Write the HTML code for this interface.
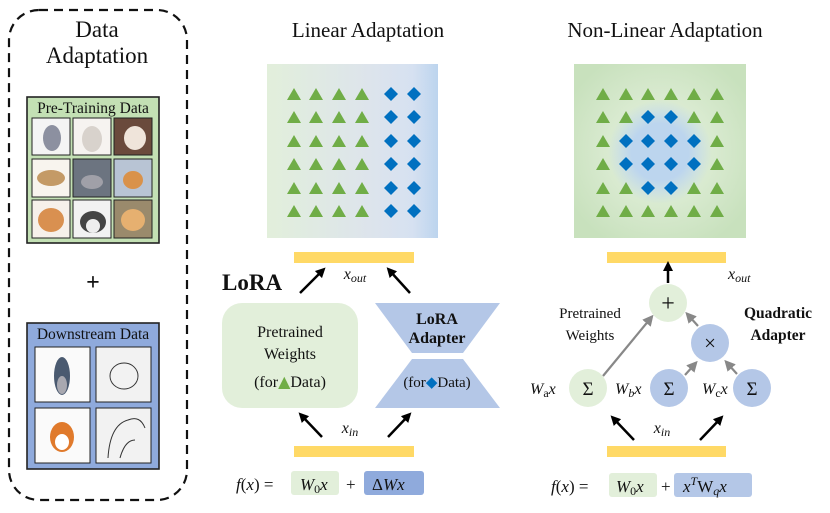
<!DOCTYPE html>
<html><head><meta charset="utf-8"><style>
body{margin:0;background:#fff}
svg{display:block}
text{font-family:"Liberation Serif",serif;fill:#111}
.it{font-style:italic}
</style></head><body>
<svg width="830" height="513" viewBox="0 0 830 513" xmlns="http://www.w3.org/2000/svg">
<defs>
<linearGradient id="lg" x1="0" x2="1" y1="0" y2="0">
<stop offset="0" stop-color="#e2efdb"/><stop offset="0.6" stop-color="#dde4ec"/><stop offset="0.85" stop-color="#d6e1f1"/><stop offset="1" stop-color="#bcd4ee"/></linearGradient>
<radialGradient id="ng" cx="0.5" cy="0.5" r="0.6">
<stop offset="0.3" stop-color="#e0eed8"/><stop offset="1" stop-color="#c8e1bd"/></radialGradient>
<radialGradient id="blob"><stop offset="0.55" stop-color="#bcd5ee"/><stop offset="1" stop-color="#bcd5ee" stop-opacity="0"/></radialGradient>
<marker id="ab" viewBox="0 0 10 10" refX="5" refY="5" markerWidth="4" markerHeight="4" orient="auto"><path d="M0,0L10,5L0,10z" fill="#000"/></marker>
<marker id="ag" viewBox="0 0 10 10" refX="5" refY="5" markerWidth="5" markerHeight="5" orient="auto"><path d="M0,0L10,5L0,10z" fill="#888"/></marker>
<symbol id="tri" viewBox="0 0 14 12"><path d="M7,0L14,12L0,12z" fill="#70ad47"/></symbol>
<symbol id="dia" viewBox="0 0 14 14"><path d="M7,0L14,7L7,14L0,7z" fill="#0070c0"/></symbol>
</defs>

<rect x="9" y="10" width="178" height="490" rx="30" fill="none" stroke="#111" stroke-width="2.2" stroke-dasharray="9,6"/>
<text x="97" y="37" font-size="23" text-anchor="middle">Data</text>
<text x="97" y="63" font-size="23" text-anchor="middle">Adaptation</text>
<rect x="27" y="97" width="132" height="146" fill="#c3e0b4" stroke="#222" stroke-width="1.6"/>
<text x="93" y="113" font-size="15.5" text-anchor="middle">Pre-Training Data</text>
<g stroke="#222" stroke-width="1">
<rect x="32" y="118" width="38" height="37" fill="#f4f4f4"/><rect x="73" y="118" width="38" height="37" fill="#f6f3f0"/><rect x="114" y="118" width="38" height="37" fill="#6a4a3c"/>
<rect x="32" y="159" width="38" height="38" fill="#f8f4ee"/><rect x="73" y="159" width="38" height="38" fill="#6c7480"/><rect x="114" y="159" width="38" height="38" fill="#b8c4d4"/>
<rect x="32" y="200" width="38" height="38" fill="#f6f0ea"/><rect x="73" y="200" width="38" height="38" fill="#f2f2f2"/><rect x="114" y="200" width="38" height="38" fill="#9a8a6c"/>
</g>
<g stroke="none">
<ellipse cx="52" cy="138" rx="9" ry="13" fill="#8c90a0"/><ellipse cx="92" cy="139" rx="10" ry="13" fill="#d8d2cc"/><ellipse cx="135" cy="138" rx="11" ry="12" fill="#efe4da"/>
<ellipse cx="51" cy="178" rx="14" ry="8" fill="#c49a66"/><ellipse cx="92" cy="182" rx="11" ry="7" fill="#a0a0a8"/><ellipse cx="133" cy="180" rx="10" ry="9" fill="#d9924a"/>
<ellipse cx="51" cy="220" rx="13" ry="12" fill="#d99050"/><ellipse cx="93" cy="222" rx="13" ry="11" fill="#444" /><ellipse cx="93" cy="226" rx="7" ry="7" fill="#eee"/><ellipse cx="133" cy="220" rx="12" ry="11" fill="#e6b070"/>
</g>
<text x="93" y="290" font-size="24" font-family="Liberation Sans" text-anchor="middle" font-weight="bold">+</text>
<rect x="27" y="323" width="132" height="146" fill="#8faadc" stroke="#222" stroke-width="1.6"/>
<text x="93" y="339" font-size="15.5" text-anchor="middle">Downstream Data</text>
<g stroke="#222" stroke-width="1" fill="#fafafa">
<rect x="35" y="347" width="55" height="55"/><rect x="96" y="347" width="55" height="55" fill="#f2f2f2"/>
<rect x="35" y="408" width="55" height="55"/><rect x="96" y="408" width="55" height="55" fill="#f2f2f2"/>
</g>
<ellipse cx="62" cy="376" rx="8" ry="19" fill="#4a5a70"/><ellipse cx="62" cy="385" rx="5" ry="9" fill="#a8a8b0"/>
<ellipse cx="124" cy="376" rx="14" ry="13" fill="none" stroke="#333" stroke-width="1"/>
<ellipse cx="62" cy="437" rx="12" ry="15" fill="#e07a2c"/><ellipse cx="62" cy="442" rx="7" ry="8" fill="#fff"/>
<path d="M108,458 Q110,425 128,420 Q140,415 145,428 M120,458 Q125,440 135,440" fill="none" stroke="#333" stroke-width="1"/>

<text x="368" y="37" font-size="21" text-anchor="middle">Linear Adaptation</text>
<rect x="267" y="64" width="171" height="174" fill="url(#lg)"/>
<g>
<use href="#tri" x="287" y="88" width="14" height="12"/><use href="#tri" x="309" y="88" width="14" height="12"/><use href="#tri" x="332" y="88" width="14" height="12"/><use href="#tri" x="355" y="88" width="14" height="12"/>
<use href="#tri" x="287" y="111" width="14" height="12"/><use href="#tri" x="309" y="111" width="14" height="12"/><use href="#tri" x="332" y="111" width="14" height="12"/><use href="#tri" x="355" y="111" width="14" height="12"/>
<use href="#tri" x="287" y="135" width="14" height="12"/><use href="#tri" x="309" y="135" width="14" height="12"/><use href="#tri" x="332" y="135" width="14" height="12"/><use href="#tri" x="355" y="135" width="14" height="12"/>
<use href="#tri" x="287" y="158" width="14" height="12"/><use href="#tri" x="309" y="158" width="14" height="12"/><use href="#tri" x="332" y="158" width="14" height="12"/><use href="#tri" x="355" y="158" width="14" height="12"/>
<use href="#tri" x="287" y="182" width="14" height="12"/><use href="#tri" x="309" y="182" width="14" height="12"/><use href="#tri" x="332" y="182" width="14" height="12"/><use href="#tri" x="355" y="182" width="14" height="12"/>
<use href="#tri" x="287" y="205" width="14" height="12"/><use href="#tri" x="309" y="205" width="14" height="12"/><use href="#tri" x="332" y="205" width="14" height="12"/><use href="#tri" x="355" y="205" width="14" height="12"/>
<use href="#dia" x="384" y="87" width="14" height="14"/><use href="#dia" x="407" y="87" width="14" height="14"/>
<use href="#dia" x="384" y="110" width="14" height="14"/><use href="#dia" x="407" y="110" width="14" height="14"/>
<use href="#dia" x="384" y="134" width="14" height="14"/><use href="#dia" x="407" y="134" width="14" height="14"/>
<use href="#dia" x="384" y="157" width="14" height="14"/><use href="#dia" x="407" y="157" width="14" height="14"/>
<use href="#dia" x="384" y="181" width="14" height="14"/><use href="#dia" x="407" y="181" width="14" height="14"/>
<use href="#dia" x="384" y="204" width="14" height="14"/><use href="#dia" x="407" y="204" width="14" height="14"/>
</g>
<rect x="294" y="252" width="120" height="11" fill="#ffd966"/>
<rect x="294" y="446" width="120" height="11" fill="#ffd966"/>
<text x="355" y="279" font-size="16" class="it" text-anchor="middle">x<tspan font-size="12" dy="3">out</tspan></text>
<text x="350" y="433" font-size="16" class="it" text-anchor="middle">x<tspan font-size="12" dy="3">in</tspan></text>
<text x="222" y="290" font-size="23" font-weight="bold">LoRA</text>
<line x1="300" y1="293" x2="322" y2="271" stroke="#000" stroke-width="2.5" marker-end="url(#ab)"/>
<line x1="410" y1="293" x2="390" y2="271" stroke="#000" stroke-width="2.5" marker-end="url(#ab)"/>
<line x1="322" y1="437" x2="302" y2="416" stroke="#000" stroke-width="2.5" marker-end="url(#ab)"/>
<line x1="388" y1="437" x2="408" y2="416" stroke="#000" stroke-width="2.5" marker-end="url(#ab)"/>
<rect x="222" y="303" width="136" height="105" rx="20" fill="#e2efda"/>
<text x="290" y="337" font-size="16" text-anchor="middle">Pretrained</text>
<text x="290" y="359" font-size="16" text-anchor="middle">Weights</text>
<text x="290" y="387" font-size="16" text-anchor="middle">(for<tspan fill="#70ad47" font-family="DejaVu Sans">▲</tspan>Data)</text>
<path d="M375,303H500L463,353H412z" fill="#b4c7e7"/>
<path d="M412,359H463L500,408H375z" fill="#b4c7e7"/>
<text x="437" y="324" font-size="16" font-weight="bold" text-anchor="middle">LoRA</text>
<text x="437" y="343" font-size="16" font-weight="bold" text-anchor="middle">Adapter</text>
<text x="437" y="387" font-size="15" text-anchor="middle">(for<tspan fill="#0070c0" font-family="DejaVu Sans">◆</tspan>Data)</text>
<rect x="291" y="471" width="48" height="24" rx="3" fill="#e2efda"/>
<rect x="364" y="471" width="60" height="24" rx="3" fill="#8faadc"/>
<text x="236" y="490" font-size="17" class="it">f<tspan font-style="normal">(</tspan>x<tspan font-style="normal">) =</tspan></text>
<text x="300" y="490" font-size="17" class="it">W<tspan font-size="12" dy="3" font-style="normal">0</tspan><tspan dy="-3">x</tspan></text>
<text x="346" y="490" font-size="17">+</text>
<text x="372" y="490" font-size="17" class="it"><tspan font-style="normal">Δ</tspan>Wx</text>

<text x="665" y="37" font-size="21" text-anchor="middle">Non-Linear Adaptation</text>
<rect x="574" y="64" width="172" height="174" fill="url(#ng)"/>
<circle cx="660" cy="152" r="52" fill="url(#blob)"/>
<g>
<use href="#tri" x="596" y="88" width="14" height="12"/><use href="#tri" x="619" y="88" width="14" height="12"/><use href="#tri" x="641" y="88" width="14" height="12"/><use href="#tri" x="664" y="88" width="14" height="12"/><use href="#tri" x="687" y="88" width="14" height="12"/><use href="#tri" x="710" y="88" width="14" height="12"/>
<use href="#tri" x="596" y="111" width="14" height="12"/><use href="#tri" x="619" y="111" width="14" height="12"/><use href="#dia" x="641" y="110" width="14" height="14"/><use href="#dia" x="664" y="110" width="14" height="14"/><use href="#tri" x="687" y="111" width="14" height="12"/><use href="#tri" x="710" y="111" width="14" height="12"/>
<use href="#tri" x="596" y="135" width="14" height="12"/><use href="#dia" x="619" y="134" width="14" height="14"/><use href="#dia" x="641" y="134" width="14" height="14"/><use href="#dia" x="664" y="134" width="14" height="14"/><use href="#dia" x="687" y="134" width="14" height="14"/><use href="#tri" x="710" y="135" width="14" height="12"/>
<use href="#tri" x="596" y="158" width="14" height="12"/><use href="#dia" x="619" y="157" width="14" height="14"/><use href="#dia" x="641" y="157" width="14" height="14"/><use href="#dia" x="664" y="157" width="14" height="14"/><use href="#dia" x="687" y="157" width="14" height="14"/><use href="#tri" x="710" y="158" width="14" height="12"/>
<use href="#tri" x="596" y="182" width="14" height="12"/><use href="#tri" x="619" y="182" width="14" height="12"/><use href="#dia" x="641" y="181" width="14" height="14"/><use href="#dia" x="664" y="181" width="14" height="14"/><use href="#tri" x="687" y="182" width="14" height="12"/><use href="#tri" x="710" y="182" width="14" height="12"/>
<use href="#tri" x="596" y="205" width="14" height="12"/><use href="#tri" x="619" y="205" width="14" height="12"/><use href="#tri" x="641" y="205" width="14" height="12"/><use href="#tri" x="664" y="205" width="14" height="12"/><use href="#tri" x="687" y="205" width="14" height="12"/><use href="#tri" x="710" y="205" width="14" height="12"/>
</g>
<rect x="607" y="252" width="119" height="11" fill="#ffd966"/>
<rect x="607" y="446" width="119" height="11" fill="#ffd966"/>
<text x="728" y="279" font-size="16" class="it">x<tspan font-size="12" dy="3">out</tspan></text>
<text x="662" y="433" font-size="16" class="it" text-anchor="middle">x<tspan font-size="12" dy="3">in</tspan></text>
<line x1="668" y1="283" x2="668" y2="266" stroke="#000" stroke-width="2.5" marker-end="url(#ab)"/>
<line x1="634" y1="440" x2="614" y2="419" stroke="#000" stroke-width="2.5" marker-end="url(#ab)"/>
<line x1="700" y1="440" x2="720" y2="419" stroke="#000" stroke-width="2.5" marker-end="url(#ab)"/>
<g stroke="#888" stroke-width="2.2">
<line x1="603" y1="376" x2="650" y2="319" marker-end="url(#ag)"/>
<line x1="698" y1="326" x2="689" y2="316" marker-end="url(#ag)"/>
<line x1="685" y1="375" x2="694" y2="365" marker-end="url(#ag)"/>
<line x1="737" y1="374" x2="728" y2="364" marker-end="url(#ag)"/>
</g>
<circle cx="668" cy="303" r="19" fill="#e2efda"/>
<circle cx="710" cy="343" r="19" fill="#b4c7e7"/>
<circle cx="588" cy="388" r="19" fill="#e2efda"/>
<circle cx="669" cy="388" r="19" fill="#b4c7e7"/>
<circle cx="752" cy="388" r="19" fill="#b4c7e7"/>
<text x="668" y="311" font-size="24" font-family="Liberation Sans" text-anchor="middle">+</text>
<text x="710" y="350" font-size="21" font-family="Liberation Sans" text-anchor="middle">×</text>
<text x="588" y="395" font-size="19" text-anchor="middle">Σ</text>
<text x="669" y="395" font-size="19" text-anchor="middle">Σ</text>
<text x="752" y="395" font-size="19" text-anchor="middle">Σ</text>
<text x="590" y="318" font-size="15" text-anchor="middle">Pretrained</text>
<text x="590" y="340" font-size="15" text-anchor="middle">Weights</text>
<text x="778" y="318" font-size="15.5" font-weight="bold" text-anchor="middle">Quadratic</text>
<text x="778" y="340" font-size="15.5" font-weight="bold" text-anchor="middle">Adapter</text>
<text x="530" y="394" font-size="16" class="it">W<tspan font-size="12" font-style="normal" dy="3">a</tspan><tspan dy="-3">x</tspan></text>
<text x="615" y="394" font-size="16" class="it">W<tspan font-size="12" dy="3">b</tspan><tspan dy="-3">x</tspan></text>
<text x="702" y="394" font-size="16" class="it">W<tspan font-size="12" font-style="normal" dy="3">c</tspan><tspan dy="-3">x</tspan></text>
<rect x="609" y="473" width="48" height="24" rx="3" fill="#e2efda"/>
<rect x="674" y="473" width="78" height="24" rx="3" fill="#b4c7e7"/>
<text x="551" y="492" font-size="17" class="it">f<tspan font-style="normal">(</tspan>x<tspan font-style="normal">) =</tspan></text>
<text x="616" y="492" font-size="17" class="it">W<tspan font-size="12" dy="3" font-style="normal">0</tspan><tspan dy="-3">x</tspan></text>
<text x="661" y="492" font-size="17">+</text>
<text x="683" y="492" font-size="17" class="it">x<tspan font-size="12" dy="-7">T</tspan><tspan dy="7" font-style="normal">W</tspan><tspan font-size="12" dy="3">q</tspan><tspan dy="-3">x</tspan></text>
</svg>
</body></html>
